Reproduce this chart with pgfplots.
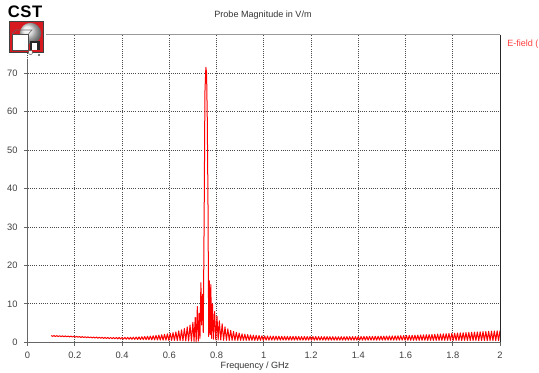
\documentclass[border=0pt]{standalone}
\usepackage{fontspec}
\setmainfont{Liberation Sans}
\usepackage{pgfplots}
\pgfplotsset{compat=1.18}
\definecolor{cstred}{HTML}{FF0000}
\definecolor{logored}{HTML}{D71920}
\begin{document}
\begin{tikzpicture}
\begin{axis}[
  scale only axis,
  width=354.375pt, height=230.775pt,
  xmin=0, xmax=2, ymin=0, ymax=80,
  xtick={0,0.2,...,2.01}, ytick={0,10,...,70},
  xtick pos=left, ytick pos=left, tick align=outside,
  major tick length=2.5pt,
  every tick/.style={black!60, line width=0.5pt},
  axis line style={draw=none},
  grid=major,
  grid style={black!70, line width=0.55pt, dash pattern=on 0.75pt off 0.9pt},
  ticklabel style={font=\fontsize{7}{8}\selectfont, text=black!75},
  /pgf/number format/assume math mode=true,
  /pgf/number format/fixed,
  /pgf/number format/precision=1,
  xticklabel style={yshift=-1pt},
  yticklabel style={xshift=-1.5pt},
  clip=true,
]
\addplot[cstred, line width=0.75pt, line join=round] coordinates {
(0.100,1.75)(0.106,1.55)(0.112,1.74)(0.118,1.52)(0.124,1.72)(0.130,1.50)(0.136,1.70)(0.142,1.48)(0.148,1.68)(0.154,1.45)
(0.160,1.66)(0.166,1.43)(0.172,1.63)(0.178,1.40)(0.184,1.60)(0.190,1.37)(0.196,1.57)(0.202,1.34)(0.208,1.54)(0.214,1.30)
(0.220,1.50)(0.226,1.27)(0.232,1.47)(0.238,1.24)(0.244,1.44)(0.250,1.20)(0.256,1.41)(0.262,1.17)(0.268,1.38)(0.274,1.13)
(0.280,1.36)(0.286,1.10)(0.292,1.34)(0.298,1.07)(0.304,1.32)(0.310,1.04)(0.316,1.30)(0.322,1.00)(0.328,1.28)(0.334,0.97)
(0.340,1.27)(0.346,0.95)(0.352,1.26)(0.358,0.92)(0.364,1.25)(0.370,0.90)(0.376,1.25)(0.382,0.88)(0.388,1.25)(0.394,0.86)
(0.400,1.26)(0.406,0.84)(0.412,1.27)(0.418,0.82)(0.424,1.28)(0.430,0.80)(0.436,1.30)(0.442,0.78)(0.448,1.33)(0.454,0.76)
(0.460,1.36)(0.466,0.74)(0.472,1.40)(0.478,0.72)(0.484,1.45)(0.490,0.70)(0.496,1.50)(0.502,0.68)(0.508,1.56)(0.514,0.66)
(0.520,1.62)(0.526,0.64)(0.532,1.70)(0.538,0.62)(0.544,1.78)(0.550,0.60)(0.556,1.87)(0.562,0.58)(0.568,1.97)(0.574,0.56)
(0.580,2.08)(0.586,0.54)(0.592,2.20)(0.598,0.52)(0.604,2.35)(0.610,0.50)(0.616,2.50)(0.622,0.48)(0.628,2.70)(0.634,0.45)
(0.640,2.95)(0.646,0.42)(0.652,3.25)(0.658,0.40)(0.664,3.60)(0.670,0.37)(0.676,4.00)(0.682,0.33)(0.688,4.50)(0.694,0.30)
(0.700,5.20)(0.705,0.25)(0.710,6.50)(0.714,0.20)(0.719,9.30)(0.723,0.30)(0.727,7.50)(0.730,1.00)(0.734,15.5)(0.737,4.50)
(0.741,12.5)(0.744,2.50)(0.748,35.0)(0.751,65.0)(0.755,71.5)(0.758,70.0)(0.761,58.0)(0.764,36.0)(0.767,1.50)(0.770,16.0)
(0.773,2.00)(0.776,15.0)(0.779,1.00)(0.783,10.0)(0.787,0.80)(0.792,8.00)(0.797,0.60)(0.802,6.80)(0.807,0.60)(0.812,5.60)
(0.818,0.60)(0.824,4.80)(0.830,0.50)(0.836,4.00)(0.842,0.50)(0.848,3.50)(0.854,0.50)(0.860,3.10)(0.866,0.50)(0.872,2.80)
(0.878,0.50)(0.884,2.60)(0.890,0.50)(0.896,2.40)(0.902,0.50)(0.908,2.20)(0.914,0.50)(0.920,2.10)(0.926,0.50)(0.932,2.00)
(0.938,0.50)(0.944,1.90)(0.950,0.50)(0.956,1.85)(0.962,0.50)(0.968,1.80)(0.974,0.50)(0.980,1.75)(0.986,0.50)(0.992,1.70)
(0.998,0.50)(1.004,1.65)(1.010,0.55)(1.016,1.64)(1.022,0.55)(1.028,1.62)(1.034,0.55)(1.040,1.61)(1.046,0.55)(1.052,1.60)
(1.058,0.55)(1.064,1.58)(1.070,0.55)(1.076,1.57)(1.082,0.55)(1.088,1.56)(1.094,0.55)(1.100,1.55)(1.106,0.55)(1.112,1.54)
(1.118,0.55)(1.124,1.53)(1.130,0.55)(1.136,1.53)(1.142,0.55)(1.148,1.52)(1.154,0.55)(1.160,1.51)(1.166,0.55)(1.172,1.51)
(1.178,0.55)(1.184,1.50)(1.190,0.55)(1.196,1.50)(1.202,0.55)(1.208,1.49)(1.214,0.55)(1.220,1.49)(1.226,0.55)(1.232,1.48)
(1.238,0.55)(1.244,1.48)(1.250,0.55)(1.256,1.47)(1.262,0.55)(1.268,1.47)(1.274,0.55)(1.280,1.46)(1.286,0.55)(1.292,1.46)
(1.298,0.55)(1.304,1.45)(1.310,0.55)(1.316,1.45)(1.322,0.55)(1.328,1.46)(1.334,0.55)(1.340,1.46)(1.346,0.55)(1.352,1.47)
(1.358,0.55)(1.364,1.48)(1.370,0.55)(1.376,1.48)(1.382,0.55)(1.388,1.49)(1.394,0.55)(1.400,1.50)(1.406,0.55)(1.412,1.51)
(1.418,0.55)(1.424,1.52)(1.430,0.55)(1.436,1.53)(1.442,0.55)(1.448,1.55)(1.454,0.55)(1.460,1.56)(1.466,0.55)(1.472,1.57)
(1.478,0.55)(1.484,1.58)(1.490,0.55)(1.496,1.60)(1.502,0.55)(1.508,1.61)(1.514,0.55)(1.520,1.63)(1.526,0.55)(1.532,1.64)
(1.538,0.55)(1.544,1.66)(1.550,0.55)(1.556,1.68)(1.562,0.55)(1.568,1.70)(1.574,0.55)(1.580,1.72)(1.586,0.55)(1.592,1.74)
(1.598,0.55)(1.604,1.76)(1.610,0.52)(1.616,1.79)(1.622,0.52)(1.628,1.82)(1.634,0.52)(1.640,1.85)(1.646,0.52)(1.652,1.88)
(1.658,0.52)(1.664,1.91)(1.670,0.52)(1.676,1.94)(1.682,0.52)(1.688,1.97)(1.694,0.50)(1.700,2.00)(1.706,0.50)(1.712,2.04)
(1.718,0.50)(1.724,2.08)(1.730,0.50)(1.736,2.12)(1.742,0.50)(1.748,2.16)(1.754,0.50)(1.760,2.20)(1.766,0.50)(1.772,2.24)
(1.778,0.50)(1.784,2.28)(1.790,0.48)(1.796,2.33)(1.802,0.48)(1.808,2.37)(1.814,0.48)(1.820,2.41)(1.826,0.48)(1.832,2.45)
(1.838,0.48)(1.844,2.49)(1.850,0.47)(1.856,2.53)(1.862,0.47)(1.868,2.57)(1.874,0.47)(1.880,2.61)(1.886,0.46)(1.892,2.65)
(1.898,0.46)(1.904,2.69)(1.910,0.46)(1.916,2.73)(1.922,0.45)(1.928,2.77)(1.934,0.45)(1.940,2.81)(1.946,0.45)(1.952,2.85)
(1.958,0.45)(1.964,2.89)(1.970,0.45)(1.976,2.93)(1.982,0.45)(1.988,2.97)(1.994,0.45)(2.000,3.00)
};
\end{axis}
\begin{scope}[x=0.75pt, y=-0.75pt, shift={(-20.625pt,256.725pt)}]
  % bounding box = 539 x 373 px
  \useasboundingbox (0,0) rectangle (539,373);
  % frame lines
  \draw[black!40, line width=1.2pt] (46,34.6) -- (500,34.6);
  \draw[black!85, line width=0.75pt] (500,34.6) -- (500,342.3);
  \draw[black!60, line width=0.6pt] (27.5,59) -- (27.5,342.3);
  \draw[black!60, line width=0.6pt] (27.5,342.3) -- (500,342.3);
  % title and labels
  \node[font=\fontsize{6.8}{8}\selectfont, text=black!80] at (263,15) {Probe Magnitude in V/m};
  \node[font=\fontsize{6.8}{8}\selectfont, text=black!80] at (255,366) {Frequency / GHz};
  \node[font=\fontsize{6.8}{8}\selectfont, text=cstred!75, anchor=west, inner sep=0pt] at (507,44) {E-field (};
  % CST logo
  \node[font=\fontsize{12.5}{13}\selectfont\bfseries, anchor=west, inner sep=0pt] at (7.5,12) {C\kern0.5pt S\kern0.5pt T};
  \fill[logored] (9.3,21.7) rectangle (43.3,52.7);
  \draw[black!75, line width=0.6pt] (9.3,21.7) rectangle (43.3,52.7);
  \shade[ball color=gray!20] (30.5,33.5) circle[radius=8pt];
  \fill[white] (12,34) rectangle (28.5,50.5);
  \draw[black!60, line width=0.4pt] (12,34) -- (16,30) -- (32,30) -- (28.5,34);
  \draw[black!70, line width=0.4pt] (12,34) rectangle (28.5,50.5);
  \fill[black!85] (30,41) rectangle (39.5,50.5);
  \fill[white] (31.5,43.5) rectangle (37,50);
  \fill[white] (30.5,52.5) circle[radius=1.6pt];
  \draw[black!70, line width=0.3pt] (30.5,52.5) circle[radius=1.6pt];
  \fill[black!70] (39,55) circle[radius=0.8pt];
\end{scope}
\end{tikzpicture}
\end{document}
